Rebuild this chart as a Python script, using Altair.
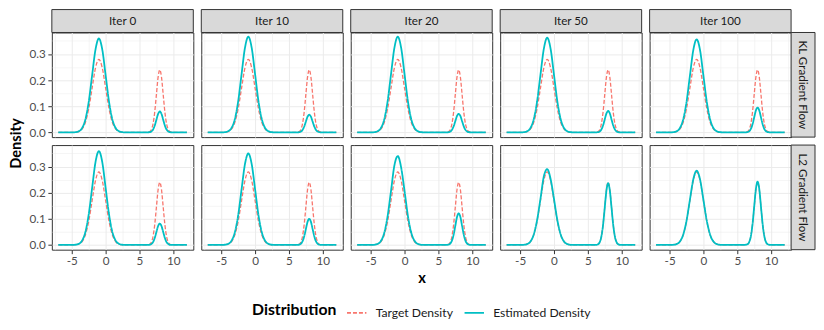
import altair as alt
import pandas as pd

# ---------------- data ----------------
x_grid = [-7, -6.5, -6, -5.5, -5, -4.5, -4, -3.5, -3, -2.5, -2, -1.5, -1, -0.5, 0, 0.5, 1, 1.5, 2,
          2.5, 3, 3.5, 4, 4.5, 5, 5.5, 6, 6.5, 6.75, 7, 7.25, 7.5, 7.75, 8, 8.25, 8.5, 8.75, 9,
          9.25, 9.5, 10, 10.5, 11, 11.5, 12]

target_density = [0, 0, 0, 0, 0.0001, 0.0006, 0.0031, 0.0123, 0.0378, 0.0907, 0.1694, 0.2465, 0.2792,
                  0.2465, 0.1694, 0.0907, 0.0378, 0.0123, 0.0031, 0.0006, 0.0001, 0, 0, 0, 0, 0, 0,
                  0.0027, 0.0105, 0.0324, 0.0777, 0.1452, 0.2113, 0.2394, 0.2113, 0.1452, 0.0777,
                  0.0324, 0.0105, 0.0027, 0, 0, 0, 0, 0]

kl_iter0 = [0, 0, 0, 0, 0.0001, 0.0008, 0.0040, 0.0158, 0.0486, 0.1166, 0.2177, 0.3168, 0.3590, 0.3168,
            0.2177, 0.1166, 0.0486, 0.0158, 0.0040, 0.0008, 0.0001, 0, 0, 0, 0, 0, 0,
            0.0009, 0.0035, 0.0108, 0.0260, 0.0485, 0.0706, 0.0800, 0.0706, 0.0485, 0.0260, 0.0108,
            0.0035, 0.0009, 0, 0, 0, 0, 0]
kl_iter10 = [0, 0, 0, 0, 0.0001, 0.0008, 0.0041, 0.0161, 0.0495, 0.1188, 0.2220, 0.3230, 0.3660, 0.3230,
             0.2220, 0.1188, 0.0495, 0.0161, 0.0041, 0.0008, 0.0001, 0, 0, 0, 0, 0, 0,
             0.0008, 0.0030, 0.0092, 0.0221, 0.0412, 0.0600, 0.0680, 0.0600, 0.0412, 0.0221, 0.0092,
             0.0030, 0.0008, 0, 0, 0, 0, 0]
kl_iter20 = [0, 0, 0, 0, 0.0001, 0.0008, 0.0041, 0.0161, 0.0495, 0.1188, 0.2220, 0.3230, 0.3660, 0.3230,
             0.2220, 0.1188, 0.0495, 0.0161, 0.0041, 0.0008, 0.0001, 0, 0, 0, 0, 0, 0,
             0.0008, 0.0031, 0.0096, 0.0231, 0.0431, 0.0627, 0.0710, 0.0627, 0.0431, 0.0231, 0.0096,
             0.0031, 0.0008, 0, 0, 0, 0, 0]
kl_iter50 = [0, 0, 0, 0, 0.0001, 0.0008, 0.0040, 0.0159, 0.0490, 0.1175, 0.2196, 0.3195, 0.3620, 0.3195,
             0.2196, 0.1175, 0.0490, 0.0159, 0.0040, 0.0008, 0.0001, 0, 0, 0, 0, 0, 0,
             0.0009, 0.0036, 0.0111, 0.0266, 0.0497, 0.0724, 0.0820, 0.0724, 0.0497, 0.0266, 0.0111,
             0.0036, 0.0009, 0, 0, 0, 0, 0]
kl_iter100 = [0, 0, 0, 0, 0.0001, 0.0008, 0.0040, 0.0156, 0.0482, 0.1156, 0.2159, 0.3142, 0.3560, 0.3142,
              0.2159, 0.1156, 0.0482, 0.0156, 0.0040, 0.0008, 0.0001, 0, 0, 0, 0, 0, 0,
              0.0011, 0.0042, 0.0129, 0.0308, 0.0576, 0.0838, 0.0950, 0.0838, 0.0576, 0.0308, 0.0129,
              0.0042, 0.0011, 0, 0, 0, 0, 0]

l2_iter0 = [0, 0, 0, 0, 0.0001, 0.0008, 0.0040, 0.0158, 0.0486, 0.1166, 0.2177, 0.3168, 0.3590, 0.3168,
            0.2177, 0.1166, 0.0486, 0.0158, 0.0040, 0.0008, 0.0001, 0, 0, 0, 0, 0, 0,
            0.0009, 0.0036, 0.0111, 0.0266, 0.0497, 0.0724, 0.0820, 0.0724, 0.0497, 0.0266, 0.0111,
            0.0036, 0.0009, 0, 0, 0, 0, 0]
l2_iter10 = [0, 0, 0, 0, 0.0001, 0.0008, 0.0039, 0.0154, 0.0474, 0.1136, 0.2123, 0.3089, 0.3500, 0.3089,
             0.2123, 0.1136, 0.0474, 0.0154, 0.0039, 0.0008, 0.0001, 0, 0, 0, 0, 0, 0,
             0.0011, 0.0044, 0.0135, 0.0325, 0.0607, 0.0883, 0.1000, 0.0883, 0.0607, 0.0325, 0.0135,
             0.0044, 0.0011, 0, 0, 0, 0, 0]
l2_iter20 = [0, 0, 0, 0, 0.0001, 0.0007, 0.0038, 0.0149, 0.0460, 0.1104, 0.2062, 0.3040, 0.3400, 0.2960,
             0.2062, 0.1104, 0.0460, 0.0149, 0.0038, 0.0007, 0.0001, 0, 0, 0, 0, 0, 0,
             0.0013, 0.0053, 0.0164, 0.0393, 0.0734, 0.1068, 0.1210, 0.1068, 0.0734, 0.0393, 0.0164,
             0.0053, 0.0013, 0, 0, 0, 0, 0]
l2_iter50 = [0, 0, 0, 0, 0.0001, 0.0006, 0.0032, 0.0127, 0.0392, 0.0942, 0.1759, 0.2620, 0.2900, 0.2520,
             0.1759, 0.0942, 0.0392, 0.0127, 0.0032, 0.0006, 0.0001, 0, 0, 0, 0, 0, 0,
             0.0026, 0.0104, 0.0319, 0.0766, 0.1431, 0.2083, 0.2360, 0.2083, 0.1431, 0.0766, 0.0319,
             0.0104, 0.0026, 0, 0, 0, 0, 0]
l2_iter100 = [0, 0, 0, 0, 0.0001, 0.0006, 0.0032, 0.0125, 0.0384, 0.0922, 0.1722, 0.2506, 0.2840, 0.2506,
              0.1722, 0.0922, 0.0384, 0.0125, 0.0032, 0.0006, 0.0001, 0, 0, 0, 0, 0, 0,
              0.0027, 0.0106, 0.0327, 0.0786, 0.1468, 0.2136, 0.2420, 0.2136, 0.1468, 0.0786, 0.0327,
              0.0106, 0.0027, 0, 0, 0, 0, 0]

methods = ["KL Gradient Flow", "L2 Gradient Flow"]
iterations = ["Iter 0", "Iter 10", "Iter 20", "Iter 50", "Iter 100"]
estimated = {
    "KL Gradient Flow": [kl_iter0, kl_iter10, kl_iter20, kl_iter50, kl_iter100],
    "L2 Gradient Flow": [l2_iter0, l2_iter10, l2_iter20, l2_iter50, l2_iter100],
}
dist_names = ["Target Density", "Estimated Density"]

# ---------------- styling ----------------
FONT = "Lato"
SMALL = 11.7
BIG = 14.7
W, H = 142, 105
STRIP_H, STRIP_W = 23, 24
XDOM = [-7.95, 12.95]
YDOM = [-0.018, 0.382]
x_breaks = [-7.5, -5, -2.5, 0, 2.5, 5, 7.5, 10, 12.5]
y_breaks = [0, 0.05, 0.1, 0.15, 0.2, 0.25, 0.3, 0.35]
MINOR_X = "datum.value % 5 !== 0"
MINOR_Y = "round(datum.value * 100) % 10 !== 0"

color_scale = alt.Scale(domain=dist_names, range=["#F8766D", "#00BFC4"])
dash_scale = alt.Scale(domain=dist_names, range=[[4, 2], [1, 0]])

legend = alt.Legend(
    title="Distribution", orient="none", legendX=201, legendY=270, direction="horizontal",
    titleOrient="left", titleFont=FONT, titleFontSize=15.8, titleFontWeight="bold", titleColor="black",
    titlePadding=9, labelFont=FONT, labelFontSize=12.2, labelColor="#1A1A1A", labelOffset=8,
    symbolType="stroke", symbolSize=380, symbolStrokeWidth=1.6, columnPadding=8,
)


def x_axis(show, title):
    kw = dict(
        values=x_breaks, grid=True, gridColor="#EBEBEB",
        gridWidth={"condition": {"test": MINOR_X, "value": 0.5}, "value": 1},
        domain=False, labels=show, ticks=show, tickColor="#333333", tickSize=4, tickWidth=1,
        tickOpacity={"condition": {"test": MINOR_X, "value": 0}, "value": 1},
        labelExpr=f"{MINOR_X} ? '' : '' + datum.value",
        labelFont=FONT, labelFontSize=SMALL, labelColor="#4D4D4D", labelPadding=2,
        title=title, titleFont=FONT, titleFontSize=BIG, titleFontWeight="bold", titleColor="black",
        titlePadding=3,
    )
    return alt.Axis(**kw)


def y_axis(show, title):
    kw = dict(
        values=y_breaks, grid=True, gridColor="#EBEBEB",
        gridWidth={"condition": {"test": MINOR_Y, "value": 0.5}, "value": 1},
        domain=False, labels=show, ticks=show, tickColor="#333333", tickSize=4, tickWidth=1,
        tickOpacity={"condition": {"test": MINOR_Y, "value": 0}, "value": 1},
        labelExpr=f"{MINOR_Y} ? '' : format(datum.value, '.1f')",
        labelFont=FONT, labelFontSize=SMALL, labelColor="#4D4D4D", labelPadding=2.5,
        title=title, titleFont=FONT, titleFontSize=BIG, titleFontWeight="bold", titleColor="black",
    )
    if title:
        kw.update(titleX=-28, titleY=H + 6)
    return alt.Axis(**kw)


def panel(r, c):
    m = methods[r]
    est = estimated[m][c]
    n = len(x_grid)
    df_t = pd.DataFrame({"x": x_grid, "density": target_density, "Distribution": [dist_names[0]] * n})
    df_e = pd.DataFrame({"x": x_grid, "density": est, "Distribution": [dist_names[1]] * n})

    xa = x_axis(r == 1, "x" if (r == 1 and c == 2) else None)
    ya = y_axis(c == 0, "Density" if (r == 0 and c == 0) else None)

    def enc(ch):
        return ch.encode(
            x=alt.X("x:Q", scale=alt.Scale(domain=XDOM, nice=False, zero=False), axis=xa),
            y=alt.Y("density:Q", scale=alt.Scale(domain=YDOM, nice=False, zero=False), axis=ya),
            color=alt.Color("Distribution:N", scale=color_scale, legend=legend),
            strokeDash=alt.StrokeDash("Distribution:N", scale=dash_scale, legend=legend),
        )

    t_line = enc(alt.Chart(df_t).mark_line(interpolate="monotone", strokeWidth=1.3))
    e_line = enc(alt.Chart(df_e).mark_line(interpolate="monotone", strokeWidth=1.8))
    layers = [t_line, e_line]

    if r == 0:
        sdf = pd.DataFrame({"label": [iterations[c]]})
        layers.append(alt.Chart(sdf).mark_rect(fill="#D9D9D9", stroke="#333333", strokeWidth=1).encode(
            x=alt.value(0), x2=alt.value(W), y=alt.value(-STRIP_H), y2=alt.value(0)))
        layers.append(alt.Chart(sdf).mark_text(font=FONT, fontSize=SMALL, color="#1A1A1A").encode(
            x=alt.value(W / 2), y=alt.value(-STRIP_H / 2), text="label:N"))
    if c == 4:
        sdf = pd.DataFrame({"label": [m]})
        layers.append(alt.Chart(sdf).mark_rect(fill="#D9D9D9", stroke="#333333", strokeWidth=1).encode(
            x=alt.value(W), x2=alt.value(W + STRIP_W), y=alt.value(0), y2=alt.value(H)))
        layers.append(alt.Chart(sdf).mark_text(font=FONT, fontSize=SMALL, color="#1A1A1A", angle=90).encode(
            x=alt.value(W + STRIP_W / 2), y=alt.value(H / 2), text="label:N"))

    return alt.layer(*layers).properties(width=W, height=H)


panels = [panel(r, c) for r in range(2) for c in range(5)]

chart = (
    alt.concat(*panels, columns=5, spacing=8, bounds="flush")
    .resolve_scale(color="shared", strokeDash="shared")
    .properties(padding={"left": 0, "top": 0, "right": 0, "bottom": 0})
    .configure_view(stroke="#333333", strokeWidth=1)
)

chart.save("out.html", embed_options={"renderer": "svg", "actions": False})
